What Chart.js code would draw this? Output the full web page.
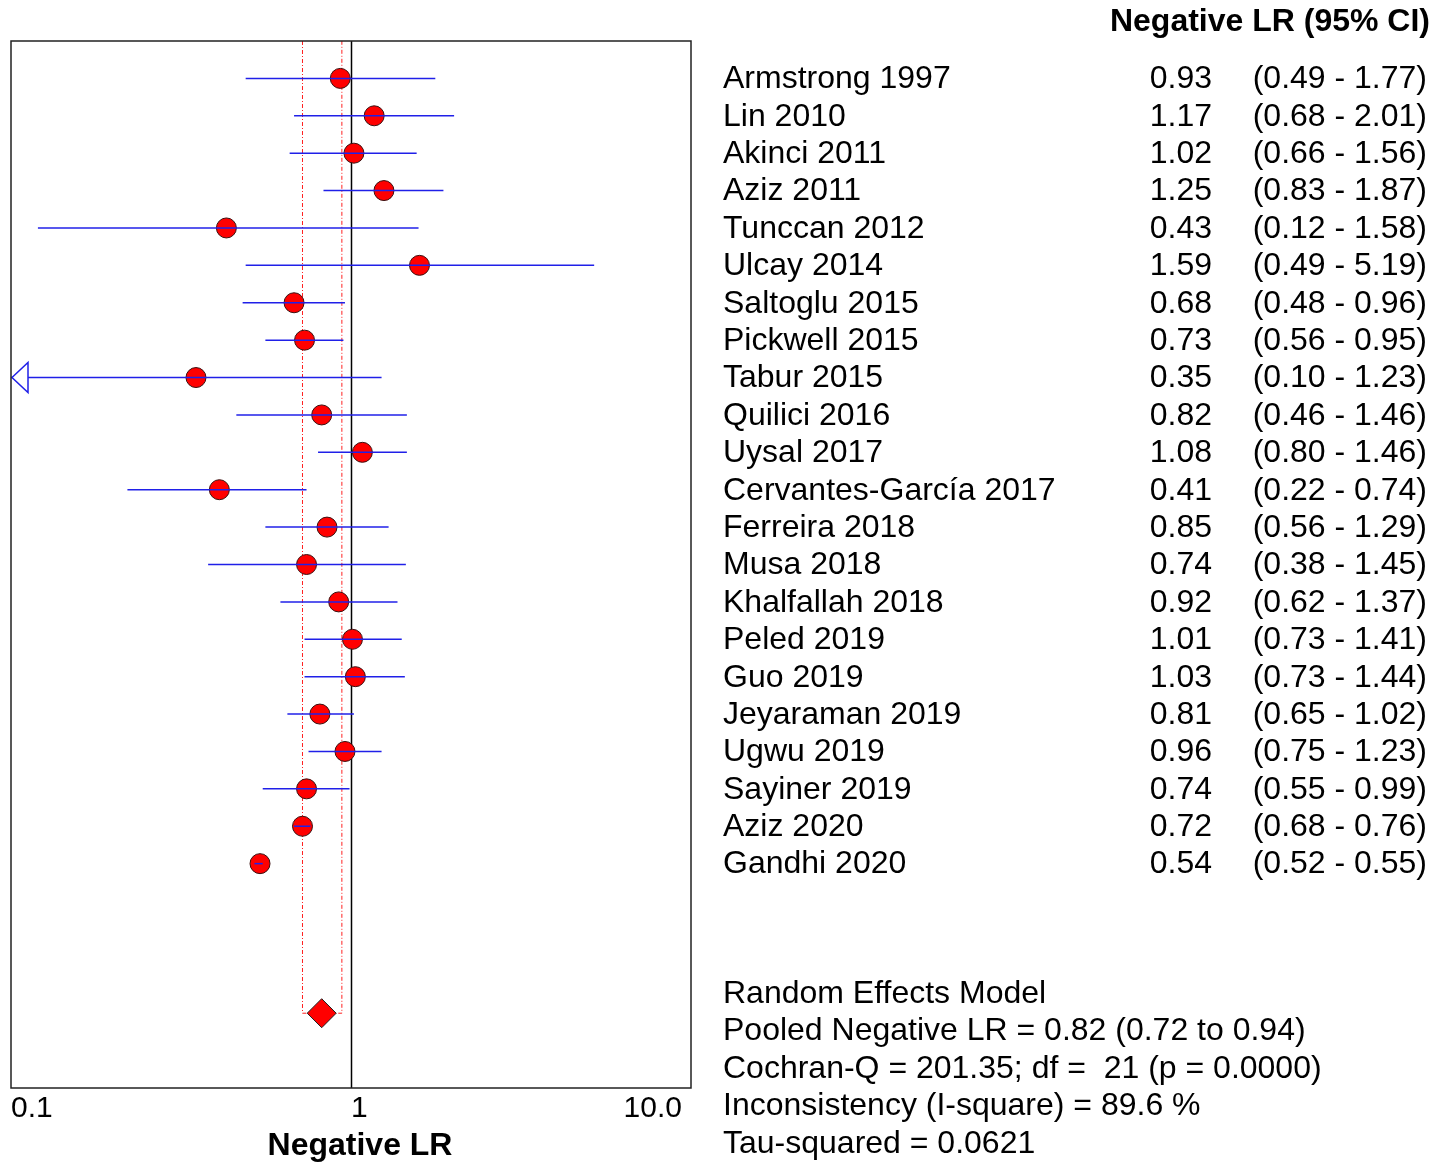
<!DOCTYPE html>
<html>
<head>
<meta charset="utf-8">
<script src="https://cdn.jsdelivr.net/npm/chart.js@4.4.1/dist/chart.umd.min.js"></script>
<style>
  html, body { margin: 0; padding: 0; background: #ffffff; }
  #wrap { position: relative; width: 1450px; height: 1162px; }
</style>
</head>
<body>
<div id="wrap"><canvas id="forest" width="1450" height="1162"></canvas></div>
<script>
// Study names, top to bottom
const studies = [
  'Armstrong 1997', 'Lin 2010', 'Akinci 2011', 'Aziz 2011', 'Tunccan 2012',
  'Ulcay 2014', 'Saltoglu 2015', 'Pickwell 2015', 'Tabur 2015', 'Quilici 2016',
  'Uysal 2017', 'Cervantes-García 2017', 'Ferreira 2018', 'Musa 2018',
  'Khalfallah 2018', 'Peled 2019', 'Guo 2019', 'Jeyaraman 2019', 'Ugwu 2019',
  'Sayiner 2019', 'Aziz 2020', 'Gandhi 2020'
];
// Negative likelihood ratio and 95% confidence limits per study
const lrValues = [0.93, 1.17, 1.02, 1.25, 0.43, 1.59, 0.68, 0.73, 0.35, 0.82, 1.08,
                  0.41, 0.85, 0.74, 0.92, 1.01, 1.03, 0.81, 0.96, 0.74, 0.72, 0.54];
const ciLower  = [0.49, 0.68, 0.66, 0.83, 0.12, 0.49, 0.48, 0.56, 0.10, 0.46, 0.80,
                  0.22, 0.56, 0.38, 0.62, 0.73, 0.73, 0.65, 0.75, 0.55, 0.68, 0.52];
const ciUpper  = [1.77, 2.01, 1.56, 1.87, 1.58, 5.19, 0.96, 0.95, 1.23, 1.46, 1.46,
                  0.74, 1.29, 1.45, 1.37, 1.41, 1.44, 1.02, 1.23, 0.99, 0.76, 0.55];
// Pooled random-effects estimate
const pooledLR = 0.82;
const pooledLower = 0.72;
const pooledUpper = 0.94;
// Axis ticks
const xTicks = [0.1, 1, 10];
const xTickLabels = ['0.1', '1', '10.0'];
// Summary statistics text
const summaryLines = [
  'Random Effects Model',
  'Pooled Negative LR = 0.82 (0.72 to 0.94)',
  'Cochran-Q = 201.35; df =  21 (p = 0.0000)',
  'Inconsistency (I-square) = 89.6 %',
  'Tau-squared = 0.0621'
];

const FONT = "'Liberation Sans', Arial, sans-serif";
const pooledRow = studies.length + 3;   // row index of the pooled diamond
const fmt2 = v => v.toFixed(2);

const ciDatasets = studies.map((s, i) => ({
  type: 'line',
  label: s,
  data: [{ x: ciLower[i], y: i }, { x: ciUpper[i], y: i }],
  borderColor: '#2020e8',
  borderWidth: 1.5,
  pointRadius: 0,
  fill: false,
  order: 0
}));

const pointDataset = {
  type: 'scatter',
  label: 'Negative LR',
  data: lrValues.map((v, i) => ({ x: v, y: i })),
  pointStyle: 'circle',
  pointRadius: 10,
  backgroundColor: '#ff0000',
  borderColor: '#3a1010',
  borderWidth: 1,
  order: 1
};

const pooledDataset = {
  type: 'scatter',
  label: 'Pooled',
  data: [{ x: pooledLR, y: pooledRow }],
  pointStyle: 'rectRot',
  pointRadius: 14.5,
  backgroundColor: '#ff0000',
  borderColor: '#202020',
  borderWidth: 1,
  order: 1
};

// Reference lines behind the marks, border, labels and text table on top
const forestDecor = {
  id: 'forestDecor',
  beforeDatasetsDraw(chart) {
    const { ctx, chartArea: a, scales: { x, y } } = chart;
    ctx.save();
    // line of no effect
    ctx.strokeStyle = '#000000';
    ctx.lineWidth = 1.5;
    ctx.beginPath();
    ctx.moveTo(Math.round(x.getPixelForValue(1)) + 0.5, a.top);
    ctx.lineTo(Math.round(x.getPixelForValue(1)) + 0.5, a.bottom);
    ctx.stroke();
    // pooled confidence limits
    const yP = y.getPixelForValue(pooledRow);
    const xl = x.getPixelForValue(pooledLower);
    const xh = x.getPixelForValue(pooledUpper);
    ctx.strokeStyle = '#ff2020';
    ctx.lineWidth = 1;
    ctx.setLineDash([4, 2, 1, 2]);
    ctx.beginPath();
    ctx.moveTo(xl, a.top); ctx.lineTo(xl, yP); ctx.lineTo(xh, yP); ctx.lineTo(xh, a.top);
    ctx.stroke();
    ctx.restore();
  },
  afterDatasetsDraw(chart) {
    const { ctx, chartArea: a, scales: { x, y } } = chart;
    ctx.save();
    // arrows where a confidence limit reaches the axis edge
    studies.forEach((s, i) => {
      if (ciLower[i] <= x.min) {
        const yy = y.getPixelForValue(i);
        const tip = a.left + 1;
        ctx.beginPath();
        ctx.moveTo(tip, yy);
        ctx.lineTo(tip + 16, yy - 15);
        ctx.lineTo(tip + 16, yy + 15);
        ctx.closePath();
        ctx.fillStyle = '#ffffff';
        ctx.fill();
        ctx.strokeStyle = '#2020e8';
        ctx.lineWidth = 1.5;
        ctx.stroke();
      }
    });
    // plot frame
    ctx.strokeStyle = '#222222';
    ctx.lineWidth = 1.5;
    ctx.strokeRect(a.left, a.top, a.right - a.left, a.bottom - a.top);

    // x tick labels
    ctx.fillStyle = '#000000';
    ctx.font = '30px ' + FONT;
    ctx.textBaseline = 'middle';
    xTicks.forEach((t, k) => {
      const px = x.getPixelForValue(t);
      ctx.textAlign = k === xTicks.length - 1 ? 'right' : 'left';
      ctx.fillText(xTickLabels[k], k === xTicks.length - 1 ? px - 9 : px, a.bottom + 21);
    });
    // x axis title
    ctx.font = 'bold 32px ' + FONT;
    ctx.textAlign = 'center';
    ctx.fillText('Negative LR', x.getPixelForValue(1) + 9, a.bottom + 58);

    // table header
    ctx.font = 'bold 32px ' + FONT;
    ctx.textAlign = 'right';
    ctx.fillText('Negative LR (95% CI)', 1430, 22);

    // study rows
    ctx.font = '32px ' + FONT;
    studies.forEach((s, i) => {
      const yy = y.getPixelForValue(i) + 1;
      ctx.textAlign = 'left';
      ctx.fillText(s, 723, yy);
      ctx.textAlign = 'right';
      ctx.fillText(fmt2(lrValues[i]), 1212, yy);
      ctx.fillText('(' + fmt2(ciLower[i]) + ' - ' + fmt2(ciUpper[i]) + ')', 1427, yy);
    });

    // summary statistics
    ctx.textAlign = 'left';
    summaryLines.forEach((line, k) => {
      ctx.fillText(line, 723, 994 + k * 37.5);
    });
    ctx.restore();
  }
};

new Chart(document.getElementById('forest'), {
  type: 'scatter',
  data: { datasets: [...ciDatasets, pointDataset, pooledDataset] },
  options: {
    responsive: false,
    animation: false,
    events: [],
    layout: { autoPadding: false, padding: { left: 11, top: 41, right: 759, bottom: 74 } },
    plugins: { legend: { display: false }, tooltip: { enabled: false } },
    scales: {
      x: { type: 'logarithmic', min: 0.1, max: 10, display: false },
      y: { type: 'linear', min: -1, max: pooledRow + 2, reverse: true, display: false }
    }
  },
  plugins: [forestDecor]
});
</script>
</body>
</html>
